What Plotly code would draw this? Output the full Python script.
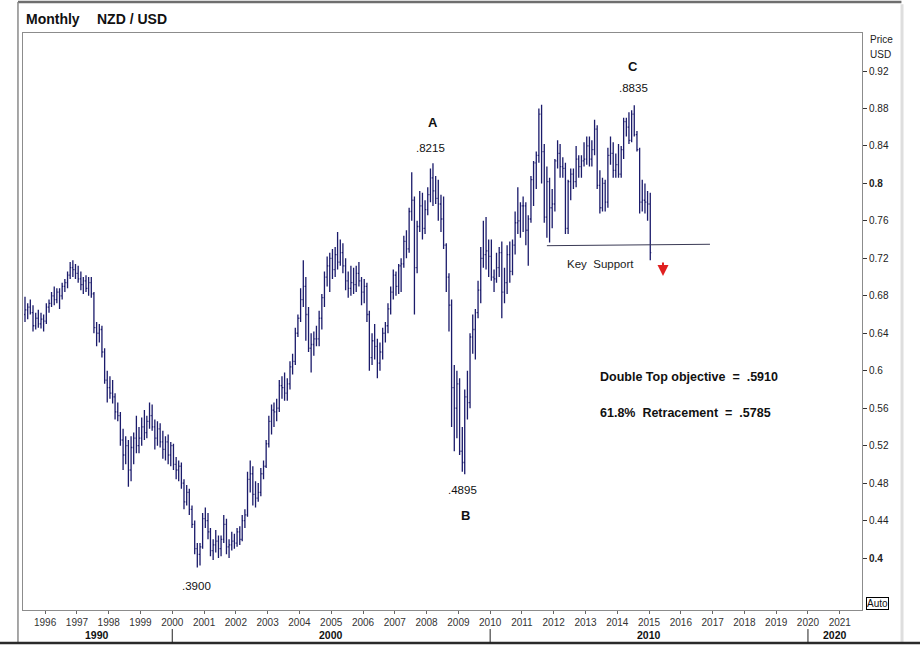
import pandas as pd
import plotly.graph_objects as go

# Monthly NZD/USD OHLC, May 1995 .. Jan 2015
opens = [
    # 1995 (May-Dec)
    .660, .665, .668, .662, .648, .656, .650, .655,
    # 1996
    .653, .668, .672, .680, .676, .684, .680, .690, .694, .702, .710, .708,
    # 1997
    .704, .698, .692, .696, .688, .694, .682, .646, .640, .644, .620, .590,
    # 1998
    .582, .576, .572, .556, .552, .526, .510, .520, .494, .518, .528, .520,
    # 1999
    .528, .540, .534, .546, .552, .540, .528, .538, .524, .516, .524, .510,
    # 2000
    .520, .500, .494, .498, .480, .460, .470, .452, .436, .410, .404, .412,
    # 2001
    .442, .440, .428, .408, .414, .418, .410, .420, .436, .412, .414, .418,
    # 2002
    .416, .428, .420, .440, .446, .484, .490, .468, .464, .470, .490, .498,
    # 2003
    .522, .546, .558, .556, .560, .584, .582, .576, .586, .604, .610, .640,
    # 2004
    .656, .676, .690, .660, .624, .628, .634, .634, .656, .678, .700, .712,
    # 2005
    .720, .708, .724, .716, .726, .712, .696, .688, .694, .692, .704, .696,
    # 2006
    .684, .690, .660, .614, .632, .626, .608, .620, .640, .648, .666, .684,
    # 2007
    .702, .690, .712, .714, .738, .730, .770, .782, .710, .754, .776, .752,
    # 2008
    .772, .788, .806, .792, .784, .778, .762, .734, .700, .670, .582, .560,
    # 2009
    .586, .514, .502, .572, .566, .636, .644, .662, .686, .720, .724, .728,
    # 2010
    .722, .700, .698, .710, .726, .684, .694, .724, .706, .734, .758, .760,
    # 2011
    .776, .776, .750, .762, .804, .822, .830, .874, .834, .764, .802, .774,
    # 2012
    .778, .824, .832, .818, .816, .752, .802, .810, .802, .826, .818, .824,
    # 2013
    .826, .840, .826, .836, .858, .798, .774, .800, .780, .830, .832, .814,
    # 2014
    .820, .810, .836, .866, .860, .846, .874, .852, .836, .780, .782, .780,
    # 2015
    .778,
]
highs = [
    .679, .672, .676, .670, .662, .665, .662, .660,
    .672, .676, .684, .690, .688, .688, .694, .698, .706, .716, .718, .714,
    .712, .706, .700, .702, .700, .700, .684, .652, .650, .648, .624, .600,
    .594, .590, .576, .566, .556, .538, .530, .526, .530, .534, .552, .540,
    .550, .558, .552, .566, .564, .548, .546, .544, .536, .530, .532, .524,
    .522, .508, .504, .502, .484, .478, .474, .456, .440, .416, .416, .448,
    .454, .448, .432, .420, .430, .424, .424, .446, .442, .420, .428, .426,
    .432, .434, .446, .452, .492, .504, .498, .482, .480, .496, .504, .526,
    .552, .564, .566, .570, .590, .594, .598, .592, .610, .618, .646, .660,
    .688, .718, .700, .668, .640, .642, .648, .664, .682, .706, .722, .726,
    .730, .732, .748, .740, .736, .720, .706, .712, .710, .712, .716, .700,
    .698, .694, .664, .640, .650, .634, .630, .646, .652, .672, .690, .708,
    .706, .714, .720, .744, .750, .774, .812, .786, .760, .792, .790, .782,
    .796, .816, .8215, .808, .804, .788, .786, .736, .704, .676, .606, .600,
    .592, .540, .580, .600, .640, .660, .666, .696, .732, .760, .764, .740,
    .740, .708, .726, .732, .738, .710, .734, .738, .740, .770, .796, .780,
    .786, .780, .766, .808, .824, .834, .880, .884, .842, .818, .806, .794,
    .826, .846, .842, .828, .822, .804, .816, .816, .840, .830, .830, .844,
    .850, .850, .846, .868, .862, .814, .806, .804, .838, .850, .844, .832,
    .842, .840, .870, .870, .876, .878, .8835, .856, .838, .804, .800, .792,
    .790,
]
lows = [
    .652, .655, .660, .642, .644, .646, .645, .642,
    .650, .662, .668, .670, .672, .666, .676, .684, .688, .698, .700, .698,
    .694, .686, .682, .684, .680, .678, .640, .626, .630, .614, .586, .566,
    .570, .565, .548, .546, .520, .494, .500, .476, .482, .500, .512, .512,
    .520, .526, .528, .538, .536, .516, .520, .518, .506, .504, .500, .498,
    .494, .484, .482, .474, .452, .456, .446, .432, .404, .390, .392, .410,
    .432, .420, .402, .398, .406, .400, .402, .416, .404, .400, .408, .410,
    .412, .414, .418, .432, .444, .470, .456, .454, .460, .466, .484, .496,
    .518, .532, .540, .546, .556, .570, .568, .568, .580, .596, .606, .636,
    .652, .668, .632, .620, .598, .616, .626, .626, .644, .668, .690, .684,
    .698, .700, .708, .712, .704, .686, .678, .680, .682, .684, .690, .670,
    .672, .652, .600, .606, .612, .592, .600, .612, .630, .640, .660, .676,
    .680, .682, .684, .710, .720, .726, .760, .660, .704, .748, .740, .746,
    .766, .780, .776, .778, .760, .748, .730, .684, .642, .540, .514, .528,
    .510, .492, .4895, .548, .560, .618, .612, .656, .672, .710, .708, .700,
    .696, .684, .694, .700, .656, .672, .682, .694, .702, .724, .746, .742,
    .748, .734, .712, .758, .776, .794, .822, .800, .758, .742, .737, .752,
    .770, .816, .806, .806, .746, .746, .782, .794, .796, .806, .806, .818,
    .820, .818, .818, .830, .794, .768, .770, .770, .774, .820, .806, .806,
    .806, .806, .826, .850, .842, .844, .850, .834, .768, .770, .768, .760,
    .718,
]
closes = [
    .665, .668, .662, .648, .656, .650, .655, .653,
    .668, .672, .680, .676, .684, .680, .690, .694, .702, .710, .708, .704,
    .698, .692, .696, .688, .694, .682, .646, .640, .644, .620, .590, .582,
    .576, .572, .556, .552, .526, .510, .520, .494, .518, .528, .520, .528,
    .540, .534, .546, .552, .540, .528, .538, .524, .516, .524, .510, .520,
    .500, .494, .498, .480, .460, .470, .452, .436, .410, .404, .412, .442,
    .440, .428, .408, .414, .418, .410, .420, .436, .412, .414, .418, .416,
    .428, .420, .440, .446, .484, .490, .468, .464, .470, .490, .498, .522,
    .546, .558, .556, .560, .584, .582, .576, .586, .604, .610, .640, .656,
    .676, .690, .660, .624, .628, .634, .634, .656, .678, .700, .712, .720,
    .708, .724, .716, .726, .712, .696, .688, .694, .692, .704, .696, .684,
    .690, .660, .614, .632, .626, .608, .620, .640, .648, .666, .684, .702,
    .690, .712, .714, .738, .730, .770, .782, .710, .754, .776, .752, .772,
    .788, .806, .792, .784, .778, .762, .734, .700, .670, .582, .560, .586,
    .514, .502, .572, .566, .636, .644, .662, .686, .720, .724, .728, .722,
    .700, .698, .710, .726, .684, .694, .724, .706, .734, .758, .760, .776,
    .776, .750, .762, .804, .822, .830, .874, .834, .764, .802, .774, .778,
    .824, .832, .818, .816, .752, .802, .810, .802, .826, .818, .824, .826,
    .840, .826, .836, .858, .798, .774, .800, .780, .830, .832, .814, .820,
    .810, .836, .866, .860, .846, .874, .852, .836, .780, .782, .780, .778,
    .726,
]

year_ticks = list(range(1996, 2022))
decades = ["1990", "2000", "2010", "2020"]
decade_label_dates = ["1997-08-20", "2005-01-01", "2015-01-01", "2020-11-05"]
decade_bounds = ["2000-01-01", "2010-01-01", "2020-01-01"]
price_ticks = [0.40, 0.44, 0.48, 0.52, 0.56, 0.60, 0.64, 0.68, 0.72, 0.76, 0.80, 0.84, 0.88, 0.92]

dates = pd.date_range("1995-05-01", periods=len(closes), freq="MS") + pd.Timedelta(days=14)

FONT = "Liberation Sans, Arial, sans-serif"
NAVY = "#1b1b6b"

fig = go.Figure()
fig.add_trace(go.Ohlc(
    x=dates, open=opens, high=highs, low=lows, close=closes,
    increasing=dict(line=dict(color=NAVY, width=1.3)),
    decreasing=dict(line=dict(color=NAVY, width=1.3)),
    tickwidth=0.4, hoverinfo="skip", showlegend=False,
))

def ptxt(v):
    s = f"{v:g}"
    return f"<b>{s}</b>" if v in (0.4, 0.8) else s

fig.update_layout(
    width=920, height=645,
    margin=dict(l=23, r=58, t=33, b=35),
    paper_bgcolor="white", plot_bgcolor="white",
    font=dict(family=FONT, color="#222"),
    showlegend=False,
    xaxis=dict(
        type="date", range=["1995-04-22", "2021-09-13"],
        rangeslider=dict(visible=False),
        tickvals=[f"{y}-01-01" for y in year_ticks],
        ticktext=[str(y) for y in year_ticks],
        ticks="outside", ticklen=3, tickcolor="#666",
        tickfont=dict(size=10, color="#333", family=FONT),
        showgrid=False, zeroline=False,
        showline=True, linecolor="#8c8c8c", linewidth=1, mirror=True,
    ),
    yaxis=dict(
        side="right", range=[0.3445, 0.9606],
        tickvals=price_ticks, ticktext=[ptxt(v) for v in price_ticks],
        ticks="outside", ticklen=4, tickcolor="#333",
        tickfont=dict(size=10, color="#222", family=FONT),
        showgrid=False, zeroline=False,
        showline=True, linecolor="#8c8c8c", linewidth=1, mirror=True,
    ),
)

ann = []
def A(**kw):
    base = dict(showarrow=False, font=dict(family=FONT, size=11.5, color="#111"))
    base.update(kw)
    ann.append(base)

# title
A(text="<b>Monthly</b>", xref="paper", yref="paper", x=0.001, y=1.0243,
  xanchor="left", yanchor="middle", font=dict(family=FONT, size=14, color="#111"))
A(text="<b>NZD / USD</b>", xref="paper", yref="paper", x=0.0858, y=1.0243,
  xanchor="left", yanchor="middle", font=dict(family=FONT, size=14, color="#111"))
# axis header
A(text="Price", xref="paper", yref="paper", x=1.007, y=0.988, xanchor="left", yanchor="middle",
  font=dict(family=FONT, size=10, color="#222"))
A(text="USD", xref="paper", yref="paper", x=1.007, y=0.9636, xanchor="left", yanchor="middle",
  font=dict(family=FONT, size=10, color="#222"))
A(text="Auto", xref="paper", yref="paper", x=1.0185, y=0.0121, xanchor="center", yanchor="middle",
  bordercolor="#000", borderwidth=1, borderpad=0, bgcolor="white",
  font=dict(family=FONT, size=10, color="#111"))
# decade labels
for d, dd in zip(decades, decade_label_dates):
    A(text=f"<b>{d}</b>", x=dd, xref="x", yref="paper", y=-0.0425, yanchor="middle",
      font=dict(family=FONT, size=10.5, color="#111"))

# chart annotations
A(text="<b>A</b>", x="2008-03-15", y=0.8215, yshift=41, font=dict(family=FONT, size=13, color="#111"))
A(text=".8215", x="2008-03-15", y=0.8215, yshift=15, xshift=-2)
A(text=".3900", x="2000-10-15", y=0.390, yshift=-19, xshift=-1)
A(text=".4895", x="2009-03-15", y=0.4895, yshift=-16, xshift=-2)
A(text="<b>B</b>", x="2009-03-15", y=0.4895, yshift=-41, xshift=1, font=dict(family=FONT, size=13, color="#111"))
A(text="<b>C</b>", x="2014-07-15", y=0.8835, yshift=39, xshift=-1, font=dict(family=FONT, size=13, color="#111"))
A(text=".8835", x="2014-07-15", y=0.8835, yshift=17, xshift=-1)
A(text="Key  Support", x="2013-06-18", y=0.7335, yshift=-18, font=dict(family=FONT, size=11.5, color="#222"))
A(text="<b>Double Top objective  =  .5910</b>", x="2013-05-26", y=0.5933, xanchor="left",
  font=dict(family=FONT, size=12.5, color="#111"))
A(text="<b>61.8%  Retracement  =  .5785</b>", x="2013-05-26", y=0.5548, xanchor="left",
  font=dict(family=FONT, size=12.5, color="#111"))
# red down arrow
ann.append(dict(x="2015-06-10", y=0.7011, ax=0, ay=-15, text="", showarrow=True,
                arrowhead=2, arrowsize=1.1, arrowwidth=2, arrowcolor="#e02020"))

fig.update_layout(annotations=ann)

shapes = [
    # key support line
    dict(type="line", xref="x", yref="y", x0="2011-10-15", y0=0.7335, x1="2016-12-01", y1=0.7350,
         line=dict(color="#3a3a55", width=1)),
    # outer frame
    dict(type="line", xref="paper", yref="paper", x0=-0.006, y0=1.0537, x1=1.047, y1=1.0537,
         line=dict(color="#6e6e6e", width=2.5)),
    dict(type="line", xref="paper", yref="paper", x0=-0.006, y0=1.0537, x1=-0.006, y1=-0.0572,
         line=dict(color="#8a8a8a", width=1.5)),
    dict(type="line", xref="paper", yref="paper", x0=1.0477, y0=1.05, x1=1.0477, y1=-0.0572,
         line=dict(color="#dedede", width=3)),
    dict(type="line", xref="paper", yref="paper", x0=-0.03, y0=-0.0572, x1=1.07, y1=-0.0572,
         line=dict(color="#2a2a2a", width=2.5)),
]
for b in decade_bounds:
    shapes.append(dict(type="line", xref="x", yref="paper", x0=b, x1=b, y0=-0.033, y1=-0.0572,
                       line=dict(color="#222", width=1)))
fig.update_layout(shapes=shapes)

fig.write_html("out.html")
